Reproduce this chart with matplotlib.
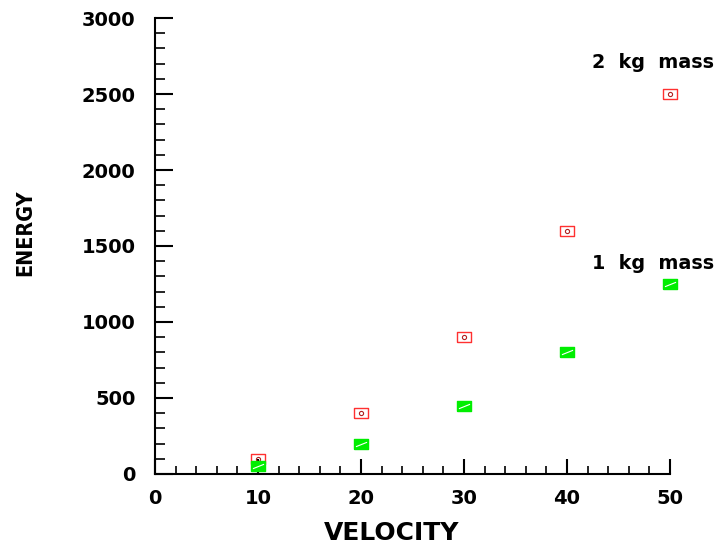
import matplotlib
matplotlib.use("Agg")
import matplotlib.pyplot as plt
from matplotlib.ticker import MultipleLocator

# data
velocity = [10, 20, 30, 40, 50]
energy_1kg = [50, 200, 450, 800, 1250]
energy_2kg = [100, 400, 900, 1600, 2500]
x_ticks = [0, 10, 20, 30, 40, 50]
y_ticks = [0, 500, 1000, 1500, 2000, 2500, 3000]

fig = plt.figure(figsize=(7.19, 5.44), dpi=100)
ax = fig.add_axes([0.2156, 0.1287, 0.7163, 0.8382])

# wide rectangle marker
rect = [(-1.5, -1), (1.5, -1), (1.5, 1), (-1.5, 1), (-1.5, -1)]

ax.plot(velocity, energy_2kg, linestyle="none", marker=rect, markersize=10,
        markerfacecolor="none", markeredgecolor="#ff3030", markeredgewidth=1.0,
        clip_on=False)
ax.plot(velocity, energy_2kg, linestyle="none", marker="o", markersize=3,
        markerfacecolor="none", markeredgecolor="#b02020", markeredgewidth=0.8,
        clip_on=False)
ax.plot(velocity, energy_1kg, linestyle="none", marker=rect, markersize=10,
        markerfacecolor="#00ee00", markeredgecolor="#00ee00", clip_on=False)
ax.plot(velocity, energy_1kg, linestyle="none", marker=[(-1, -0.4), (1, 0.4)],
        markersize=8, markeredgecolor="white", markeredgewidth=0.8,
        clip_on=False)

ax.text(42.4, 2710, "2  kg  mass", fontsize=13.8, fontweight="bold",
        ha="left", va="center", clip_on=False)
ax.text(42.4, 1388, "1  kg  mass", fontsize=13.8, fontweight="bold",
        ha="left", va="center", clip_on=False)

ax.set_xlim(0, 50)
ax.set_ylim(0, 3000)
ax.set_xticks(x_ticks)
ax.set_yticks(y_ticks)
ax.xaxis.set_minor_locator(MultipleLocator(2))
ax.yaxis.set_minor_locator(MultipleLocator(100))

for s in ["top", "right"]:
    ax.spines[s].set_visible(False)
for s in ["left", "bottom"]:
    ax.spines[s].set_linewidth(1.5)

ax.tick_params(axis="x", which="major", direction="in", length=11, width=1.5,
               labelsize=14, pad=11)
ax.tick_params(axis="x", which="minor", direction="in", length=6, width=1.2)
ax.tick_params(axis="y", which="major", direction="in", length=13, width=1.5,
               labelsize=14, pad=14)
ax.tick_params(axis="y", which="minor", direction="in", length=7, width=1.2)
for lab in ax.get_xticklabels() + ax.get_yticklabels():
    lab.set_fontweight("bold")

ax.set_xlabel("VELOCITY", fontsize=18, fontweight="bold")
ax.xaxis.set_label_coords(0.46, -0.103)
ax.set_ylabel("ENERGY", fontsize=15.5, fontweight="bold",
              fontstretch="condensed")
ax.yaxis.set_label_coords(-0.232, 0.53)

fig.savefig("out.png", dpi=100)
